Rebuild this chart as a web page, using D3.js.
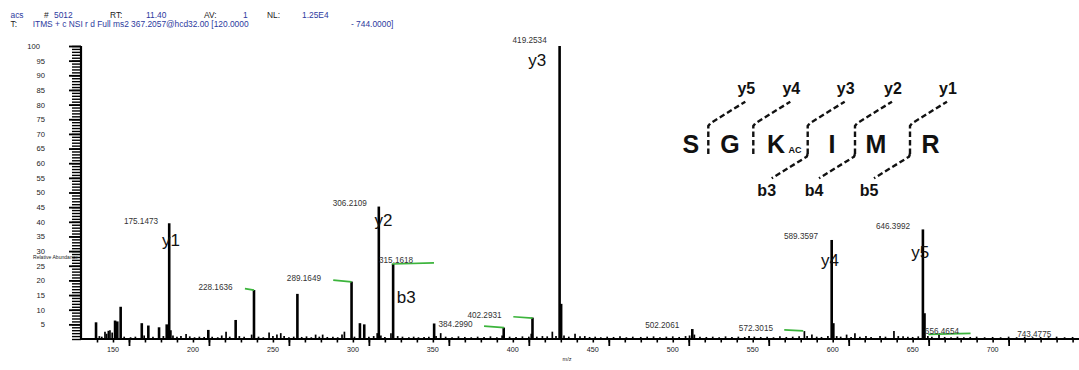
<!DOCTYPE html>
<html><head><meta charset="utf-8">
<script src="https://cdn.jsdelivr.net/npm/d3@7/dist/d3.min.js"></script>
<style>
body{margin:0;background:#fff}
svg{display:block}
text{font-family:"Liberation Sans",Arial,Helvetica,sans-serif}
</style>
</head><body>
<svg id="chart" width="1079" height="370"></svg>
<script>
// ---------------- data ----------------
const headerLine1 = ["acs", "#", "5012", "RT:", "11.40", "AV:", "1", "NL:", "1.25E4"];
const headerLine2 = ["T:", "ITMS + c NSI r d Full ms2 367.2057@hcd32.00 [120.0000", "- 744.0000]"];
const mzRange = [120, 744];
const xTickLabels = [150, 200, 250, 300, 350, 400, 450, 500, 550, 600, 650, 700];
const yTickLabels = [5, 10, 15, 20, 25, 30, 35, 40, 45, 50, 55, 60, 65, 70, 75, 80, 85, 90, 95, 100];
const xTitle = "m/z";
const yTitle = "Relative Abundance";

// peaks: m/z and relative abundance (%)
const peakMz = [
 129.4,131.5,133.0,135.0,136.0,137.1,138.1,139.5,141.3,142.7,144.8,147.0,151.0,154.0,158.0,159.5,162.1,165.0,168.8,171.5,
 173.6,175.15,176.2,177.5,180.0,182.5,185.7,188.0,191.0,194.0,197.0,199.6,202.0,205.5,208.0,210.7,213.0,216.7,219.0,222.0,
 226.7,228.16,231.0,234.0,237.6,240.0,242.5,244.9,247.0,250.0,253.0,255.3,258.0,261.0,264.0,266.7,269.0,271.1,274.0,277.5,
 280.5,283.2,284.7,289.16,291.0,294.4,297.1,300.0,303.0,305.2,306.21,307.5,310.0,313.8,315.16,318.0,321.0,325.0,328.0,331.0,
 334.5,337.5,340.8,342.0,344.9,348.0,352.0,356.0,360.0,364.0,368.0,372.0,376.0,380.0,383.3,384.3,388.0,392.0,396.0,400.0,
 401.5,402.29,405.0,408.5,411.5,414.7,417.0,419.25,420.2,422.0,425.0,428.9,432.0,435.0,438.0,441.5,445.0,449.0,453.0,457.0,
 461.0,465.0,470.0,474.0,478.0,482.0,486.0,490.0,494.0,498.0,500.5,502.21,503.5,507.0,511.0,515.0,519.0,523.0,527.0,531.0,
 535.0,537.7,541.0,545.0,549.0,553.0,557.0,561.0,565.0,569.0,572.3,574.0,577.0,580.0,583.0,587.0,589.36,590.4,592.5,595.0,
 598.7,601.5,603.9,607.0,610.8,614.0,619.6,623.0,628.3,631.0,634.0,637.0,640.0,643.5,646.4,647.4,649.5,652.0,656.47,660.0,
 664.0,668.0,672.0,676.0,680.0,685.0,690.0,695.0,700.0,705.0,710.0,715.0,720.0,725.0,730.0,735.0,740.0
];
const peakIntensity = [
 5.7,1.0,0.8,2.5,1.8,2.8,3.0,2.2,6.3,6.0,11.0,0.8,0.6,0.8,5.4,1.2,4.6,0.8,4.0,1.0,
 5.0,39.5,3.0,1.2,0.8,1.0,1.7,0.9,0.6,0.8,0.7,3.1,0.8,0.6,1.2,2.5,0.8,6.5,1.0,0.8,
 1.5,16.7,0.8,0.6,2.2,1.0,1.5,2.0,1.0,0.6,0.8,15.4,0.7,0.9,0.6,1.5,0.8,1.5,0.7,0.8,
 0.6,1.5,2.5,19.6,0.8,5.4,5.0,0.8,1.0,2.0,45.2,1.2,0.7,2.0,25.6,1.0,0.8,0.6,0.8,0.6,
 0.7,0.8,5.3,1.0,2.0,0.8,0.6,0.9,0.7,0.6,0.8,0.7,0.9,0.6,1.2,3.9,0.8,0.7,0.9,0.8,
 1.8,7.3,0.8,1.0,0.9,2.5,1.0,100,12.0,1.2,0.8,1.8,0.9,1.0,0.7,0.8,0.6,0.8,0.7,0.9,
 0.6,0.8,0.7,0.8,0.9,0.6,0.8,0.9,0.7,1.0,1.2,3.4,1.5,0.8,0.7,0.8,0.6,0.9,0.7,0.8,
 0.7,1.0,0.8,0.7,0.8,0.6,0.9,0.7,0.8,0.9,2.7,1.0,1.5,0.8,0.7,1.0,33.8,5.4,1.0,0.8,
 1.5,0.7,2.0,0.8,1.0,0.7,1.0,0.8,2.7,1.0,0.9,0.8,0.7,0.9,37.4,8.8,1.0,0.8,1.6,0.7,
 0.6,0.8,0.6,0.7,0.8,0.6,0.7,0.6,0.8,0.6,0.7,0.6,0.7,0.6,0.8,0.6,0.7
];

// mass labels: text, anchor m/z (label centre), anchor abundance (baseline)
const massLabels = ["175.1473","228.1636","289.1649","306.2109","315.1618","384.2990","402.2931","419.2534",
                    "502.2061","572.3015","589.3597","646.3992","656.4654","743.4775"];
const massLabelMz = [157.5,204.1,259.4,288.1,317.0,354.2,372.3,400.5,483.4,542.0,570.2,627.7,658.3,716.0];
const massLabelInt = [39.1,16.7,19.8,45.4,26.0,4.2,7.2,101.1,3.8,2.8,34.0,37.6,1.8,0.65];

// fragment ion labels on the spectrum
const ionLabels = ["y1","y2","b3","y3","y4","y5"];
const ionLabelMz = [176.3,309.1,323.4,405.2,588.3,644.7];
const ionLabelInt = [31.6,38.4,12.2,93.3,24.8,27.6];

// green leader lines (from, to) in m/z / abundance
const leaderMzFrom = [222.5,277.7,314.3,390.3,372.0,559.7,649.8];
const leaderIntFrom = [17.2,20.1,25.6,7.6,4.4,3.1,1.6];
const leaderMzTo = [228.2,289.2,340.7,402.4,384.5,571.6,676.2];
const leaderIntTo = [16.7,19.5,26.0,7.1,3.9,2.8,1.9];

// peptide fragmentation diagram
const residues = ["S","G","K","I","M","R"];
const modification = "AC";
const yIons = ["y5","y4","y3","y2","y1"];
const bIons = ["b3","b4","b5"];

// ---------------- drawing ----------------
const svg = d3.select("#chart");
const x = d3.scaleLinear().domain(mzRange).range([81, 1079]);
const y = d3.scaleLinear().domain([0, 100]).range([339, 46]);
const blue = "#2c3a9e", dark = "#222";

// header
const h1x = [10.5, 44, 54, 110, 146, 204, 243, 267, 302];
const h1c = [blue, dark, blue, dark, blue, dark, blue, dark, blue];
svg.append("g").selectAll("text").data(headerLine1).join("text")
  .attr("x", (d,i) => h1x[i]).attr("y", 18).attr("font-size", 8.4)
  .attr("fill", (d,i) => h1c[i]).text(d => d);
const h2x = [10.5, 32.7, 351];
const h2c = [dark, blue, blue];
svg.append("g").selectAll("text").data(headerLine2).join("text")
  .attr("x", (d,i) => h2x[i]).attr("y", 27).attr("font-size", 8.4)
  .attr("fill", (d,i) => h2c[i]).text(d => d);

// y axis ruler
const yMinor = svg.append("g").attr("transform", "translate(81,0)")
  .call(d3.axisLeft(y).tickValues(d3.range(0, 101, 1)).tickSize(9).tickFormat(""));
yMinor.select(".domain").remove();
yMinor.selectAll("line").attr("stroke", "#000").attr("stroke-width", 1.4);
const yMajor = svg.append("g").attr("transform", "translate(81,0)")
  .call(d3.axisLeft(y).tickValues(yTickLabels).tickSize(12).tickPadding(24));
yMajor.select(".domain").remove();
yMajor.selectAll("line").attr("stroke", "#000").attr("stroke-width", 1.8);
yMajor.selectAll("text").attr("font-size", 7.6).attr("fill", dark)
  .attr("font-family", '"Liberation Sans",Arial,sans-serif')
  .attr("dx", d => d === 100 ? -5 : 0);
svg.append("line").attr("x1", 81).attr("x2", 81).attr("y1", y(100)).attr("y2", y(0))
  .attr("stroke", "#000").attr("stroke-width", 2.2);
svg.append("text").attr("x", 33).attr("y", 259).attr("font-size", 5).attr("fill", dark)
  .attr("textLength", 45).text(yTitle);

// peaks
svg.append("g").selectAll("line").data(peakMz).join("line")
  .attr("x1", d => x(d)).attr("x2", d => x(d))
  .attr("y1", y(0)).attr("y2", (d,i) => y(peakIntensity[i]))
  .attr("stroke", "#000")
  .attr("stroke-width", (d,i) => peakIntensity[i] > 3 ? 2.6 : 1.7);

// x axis
const xMinor = svg.append("g").attr("transform", `translate(0,${y(0)})`)
  .call(d3.axisBottom(x).tickValues(d3.range(130, 744, 10)).tickSize(3.5).tickFormat(""));
xMinor.select(".domain").remove();
xMinor.selectAll("line").attr("stroke", "#000").attr("stroke-width", 1.6);
const xMajor = svg.append("g").attr("transform", `translate(0,${y(0)})`)
  .call(d3.axisBottom(x).tickValues(xTickLabels).tickSize(7).tickPadding(1).tickSizeOuter(0));
xMajor.select(".domain").remove();
xMajor.selectAll("line").attr("stroke", "#000").attr("stroke-width", 1.8);
xMajor.selectAll("text").attr("font-size", 7.2).attr("fill", dark).attr("dx", -16.5)
  .attr("font-family", '"Liberation Sans",Arial,sans-serif');
svg.append("line").attr("x1", x(mzRange[0])).attr("x2", x(mzRange[1]))
  .attr("y1", y(0)).attr("y2", y(0)).attr("stroke", "#000").attr("stroke-width", 2.2);
svg.append("text").attr("x", 567).attr("y", 361).attr("font-size", 5.5)
  .attr("text-anchor", "middle").attr("fill", dark).text(xTitle);

// leader lines
svg.append("g").selectAll("line").data(leaderMzFrom).join("line")
  .attr("x1", d => x(d)).attr("y1", (d,i) => y(leaderIntFrom[i]))
  .attr("x2", (d,i) => x(leaderMzTo[i])).attr("y2", (d,i) => y(leaderIntTo[i]))
  .attr("stroke", "#3cb43c").attr("stroke-width", 1.7);

// mass labels
svg.append("g").selectAll("text").data(massLabels).join("text")
  .attr("x", (d,i) => x(massLabelMz[i])).attr("y", (d,i) => y(massLabelInt[i]))
  .attr("text-anchor", "middle").attr("font-size", 8.2).attr("fill", "#333").text(d => d);

// ion labels
svg.append("g").selectAll("text").data(ionLabels).join("text")
  .attr("x", (d,i) => x(ionLabelMz[i])).attr("y", (d,i) => y(ionLabelInt[i]))
  .attr("text-anchor", "middle").attr("font-size", 17).attr("fill", "#111").text(d => d);

// peptide diagram
const diag = svg.append("g");
const resX = [690.8, 730, 776, 832, 876, 930.5];
const sepX = [708.3, 753.3, 807.7, 855, 910];
const baseY = 152.5;
diag.selectAll("text.res").data(residues).join("text").attr("class", "res")
  .attr("x", (d,i) => resX[i]).attr("y", baseY).attr("text-anchor", "middle")
  .attr("font-size", 25).attr("font-weight", "bold").attr("fill", "#111").text(d => d);
diag.append("text").attr("x", 795).attr("y", baseY).attr("text-anchor", "middle")
  .attr("font-size", 9).attr("font-weight", "bold").attr("fill", "#111").text(modification);
const dash = "5.5,3";
diag.selectAll("path.yb").data(yIons).join("path").attr("class", "yb")
  .attr("d", (d,i) => `M${sepX[i]},154 L${sepX[i]},126 L${sepX[i]+2},123.3 L${sepX[i]+37},101.7`)
  .attr("fill", "none").attr("stroke", "#111").attr("stroke-width", 2.4).attr("stroke-dasharray", dash);
diag.selectAll("text.yl").data(yIons).join("text").attr("class", "yl")
  .attr("x", (d,i) => sepX[i] + 38).attr("y", 94).attr("text-anchor", "middle")
  .attr("font-size", 16).attr("font-weight", "bold").attr("fill", "#111").text(d => d);
const bSep = sepX.slice(2);
diag.selectAll("path.bb").data(bIons).join("path").attr("class", "bb")
  .attr("d", (d,i) => `M${bSep[i]},154 L${bSep[i]-1},156.7 L${bSep[i]-36},178.3`)
  .attr("fill", "none").attr("stroke", "#111").attr("stroke-width", 2.4).attr("stroke-dasharray", dash);
diag.selectAll("text.bl").data(bIons).join("text").attr("class", "bl")
  .attr("x", (d,i) => bSep[i] - 41).attr("y", 196).attr("text-anchor", "middle")
  .attr("font-size", 16).attr("font-weight", "bold").attr("fill", "#111").text(d => d);
</script>
</body></html>
